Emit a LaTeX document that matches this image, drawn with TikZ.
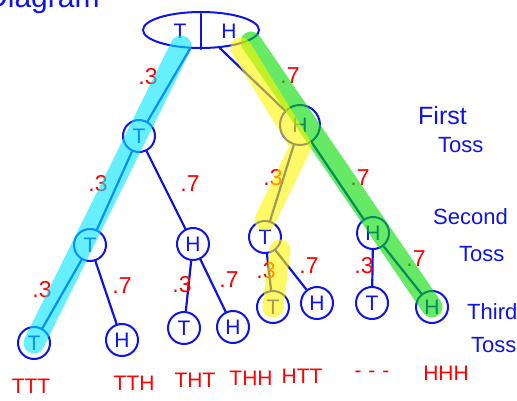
\documentclass[tikz,border=0pt]{standalone}
\usepackage{fontspec}
\setmainfont{Liberation Sans}
\usetikzlibrary{shapes.geometric}
\definecolor{pen}{RGB}{15,20,230}
\definecolor{ink}{RGB}{255,0,0}
\definecolor{hcyan}{RGB}{0,230,255}
\definecolor{hgreen}{RGB}{0,220,0}
\definecolor{hyellow}{RGB}{255,245,0}
\begin{document}
\begin{tikzpicture}[x=1pt,y=-1pt,
  nd/.style={circle, draw=pen, line width=2pt, minimum size=32pt, inner sep=0pt, text=pen, font=\fontsize{21}{21}\selectfont},
  conn/.style={draw=pen, line width=2.2pt, line cap=round},
  prob/.style={text=ink, inner sep=0pt, font=\fontsize{23}{23}\selectfont},
  outc/.style={text=ink, inner sep=0pt, font=\fontsize{21}{21}\selectfont},
  side/.style={text=pen, inner sep=0pt, anchor=west, font=\fontsize{22}{22}\selectfont},
  hl/.style={line width=21pt, line cap=round, line join=round, opacity=0.6}]
\clip (0,0) rectangle (517,401);
\fill[white] (0,0) rectangle (517,401);
% title
\node[text=pen, anchor=base west, inner sep=0pt, font=\fontsize{30}{30}\selectfont] (title) at (-14,8) {Diagram};
% root
\node[ellipse, draw=pen, line width=2pt, minimum width=116pt, minimum height=36pt, inner sep=0pt] (root) at (201,30) {};
\draw[conn] ([yshift=-3pt]root.north) -- (root.south);
\node[text=pen, font=\fontsize{21}{21}\selectfont] (rT) at (180,31) {T};
\node[text=pen, font=\fontsize{21}{21}\selectfont] (rH) at (229,31) {H};
% level 1
\node[nd] (a) at (139,136) {T};
\node[nd, minimum size=40pt] (b) at (300,125) {H};
% level 2
\node[nd] (aa) at (90,245) {T};
\node[nd] (ab) at (193,244) {H};
\node[nd] (ba) at (265,237) {T};
\node[nd] (bb) at (373,233) {H};
% level 3
\node[nd] (aaa) at (34,343) {T};
\node[nd] (aab) at (122,340) {H};
\node[nd] (aba) at (184,328) {T};
\node[nd] (abb) at (233,327) {H};
\node[nd] (baa) at (273,307) {T};
\node[nd] (bab) at (317,303) {H};
\node[nd] (bba) at (372,303) {T};
\node[nd] (bbb) at (432,307) {H};
% connectors
\draw[conn] (root) -- (a);
\draw[conn] (root) -- (b);
\draw[conn] (a) -- (aa);
\draw[conn] (a) -- (ab);
\draw[conn] (b) -- (ba);
\draw[conn] (b) -- (bb);
\draw[conn] (aa) -- (aaa);
\draw[conn] (aa) -- (aab);
\draw[conn] (ab) -- (aba);
\draw[conn] (ab) -- (abb);
\draw[conn] (ba) -- (baa);
\draw[conn] (ba) -- (bab);
\draw[conn] (bb) -- (bba);
\draw[conn] (bb) -- (bbb);
% probabilities
\node[prob] (p1) at (148,77) {.3};
\node[prob] (p2) at (290,76) {.7};
\node[prob] (p3) at (98,184) {.3};
\node[prob] (p4) at (190,184) {.7};
\node[prob] (p5) at (273,178) {.3};
\node[prob] (p6) at (360,178) {.7};
\node[prob] (p7) at (42,290) {.3};
\node[prob] (p8) at (122,286) {.7};
\node[prob] (p9) at (182,285) {.3};
\node[prob] (p10) at (229,280) {.7};
\node[prob] (p11) at (266,271) {.3};
\node[prob] (p12) at (309,266) {.7};
\node[prob] (p13) at (364,266) {.3};
\node[prob] (p14) at (416,259) {.7};
% outcomes
\node[outc] (o1) at (31,386) {TTT};
\node[outc] (o2) at (134,383) {TTH};
\node[outc] (o3) at (195,380) {THT};
\node[outc] (o4) at (251,378) {THH};
\node[outc] (o5) at (302,376) {HTT};
\node[outc] (o6) at (372,374) {-\,\,-\,\,-};
\node[outc] (o7) at (446,373) {HHH};
% side labels
\node[side, font=\fontsize{25}{25}\selectfont] (s1) at (418,116) {First};
\node[side] (s2) at (438,145) {Toss};
\node[side] (s3) at (433,217) {Second};
\node[side] (s4) at (459,254) {Toss};
\node[side] (s5) at (467,312) {Third};
\node[side] (s6) at (471,345) {Toss};
% highlights
\coordinate (cy0) at (181,46);
\coordinate (gr0) at (251,42);
\coordinate (ye0) at (241,48);
\coordinate (ye1) at (301,146);
\coordinate (ye2) at (280,250);
\draw[hl, hcyan] (cy0) -- (aaa.center);
\draw[hl, hgreen] (gr0) -- (bbb.center);
\draw[hl, hyellow] (ye0) -- (ye1) -- (ba.north);
\draw[hl, hyellow] (ye2) -- (baa.center);
\end{tikzpicture}
\end{document}
